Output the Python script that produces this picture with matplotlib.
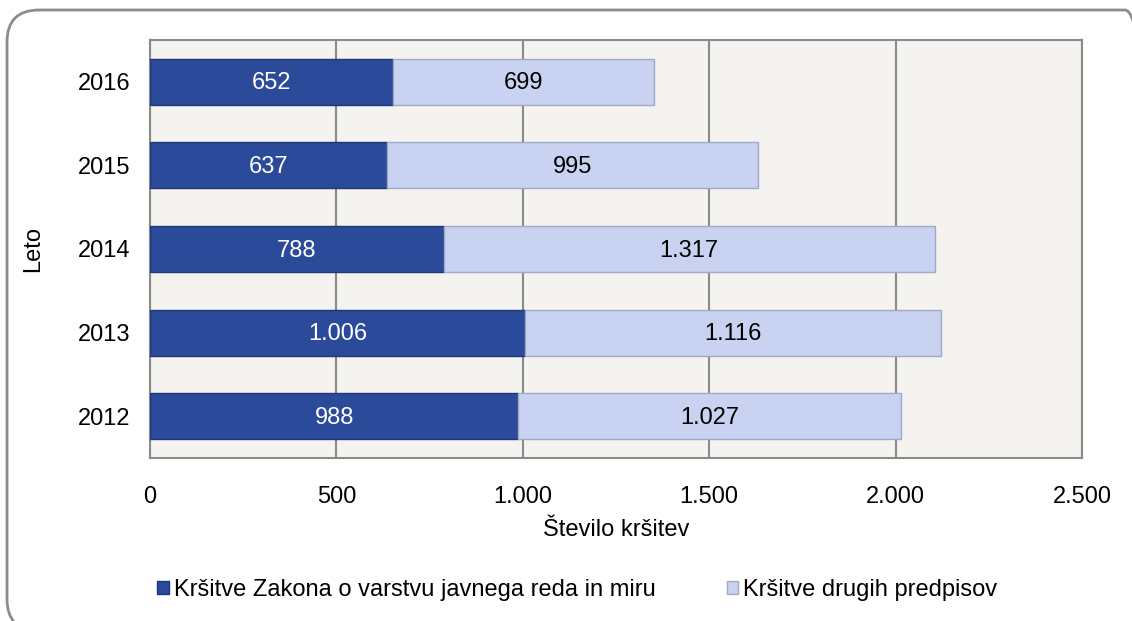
import matplotlib.pyplot as plt
from matplotlib.patches import FancyBboxPatch, Patch
from matplotlib.transforms import IdentityTransform
from matplotlib.ticker import FuncFormatter
import numpy as np

plt.rcParams['font.family'] = ['Liberation Sans', 'DejaVu Sans']

# ── Data ───────────────────────────────────────────────────────────────────────
years = ["2012", "2013", "2014", "2015", "2016"]
zakon = [988, 1006, 788, 637, 652]
drugi = [1027, 1116, 1317, 995, 699]
series_names = ["Kršitve Zakona o varstvu javnega reda in miru",
                "Kršitve drugih predpisov"]

# ── Style ──────────────────────────────────────────────────────────────────────
DARK = "#2c4a9a"
LIGHT = "#c9d3f1"
PLOT_BG = "#f4f3ef"
GRID = "#8a8a8a"
FS = 17


def fmt(v):
    return f"{v:,.0f}".replace(",", ".")


fig = plt.figure(figsize=(11.32, 6.21), dpi=100, facecolor="white")

# rounded frame around the chart (pixel coordinates)
frame = FancyBboxPatch((7, -10), 1150, 621,
                       boxstyle="round,pad=0,rounding_size=32",
                       transform=IdentityTransform(), facecolor="none",
                       edgecolor="#8c8c8c", linewidth=2.0, zorder=0)
fig.patches.append(frame)

ax = fig.add_axes([150 / 1132, 1 - 458 / 621, 932 / 1132, 418 / 621])
ax.set_facecolor(PLOT_BG)

y = np.arange(len(years))
h = 0.55
ax.barh(y, zakon, h, color=DARK, edgecolor="#1f3778", linewidth=1.0, zorder=3)
ax.barh(y, drugi, h, left=zakon, color=LIGHT, edgecolor="#9fa9c8",
        linewidth=1.0, zorder=3)

for i in range(len(years)):
    ax.text(zakon[i] / 2, y[i] - 0.02, fmt(zakon[i]), ha="center", va="center",
            color="white", fontsize=FS, zorder=4)
    ax.text(zakon[i] + drugi[i] / 2, y[i] - 0.02, fmt(drugi[i]), ha="center",
            va="center", color="black", fontsize=FS, zorder=4)

ax.set_xlim(0, 2500)
ax.set_ylim(-0.5, len(years) - 0.5)
ax.set_xticks(np.arange(0, 2501, 500))
ax.xaxis.set_major_formatter(FuncFormatter(lambda v, p: fmt(v)))
ax.set_yticks(y)
ax.set_yticklabels(years)
ax.tick_params(axis="both", length=0, labelsize=FS, colors="black")
ax.tick_params(axis="x", pad=20)
ax.tick_params(axis="y", pad=14)
ax.grid(axis="x", color=GRID, linewidth=1.5, zorder=1)
for s in ax.spines.values():
    s.set_color(GRID)
    s.set_linewidth(1.5)

ax.set_xlabel("Število kršitev", fontsize=FS, labelpad=8)
ax.set_ylabel("Leto", fontsize=FS, labelpad=24)

handles = [Patch(facecolor=DARK, edgecolor="#1f3778"),
           Patch(facecolor=LIGHT, edgecolor="#9fa9c8")]
fig.legend(handles, series_names, loc="center", ncol=2,
           bbox_to_anchor=(0.51, 1 - 590 / 621), frameon=False,
           fontsize=FS, handlelength=0.5, handleheight=0.5,
           handletextpad=0.2, columnspacing=3.0)

fig.savefig("out.png", dpi=100, facecolor="white")
